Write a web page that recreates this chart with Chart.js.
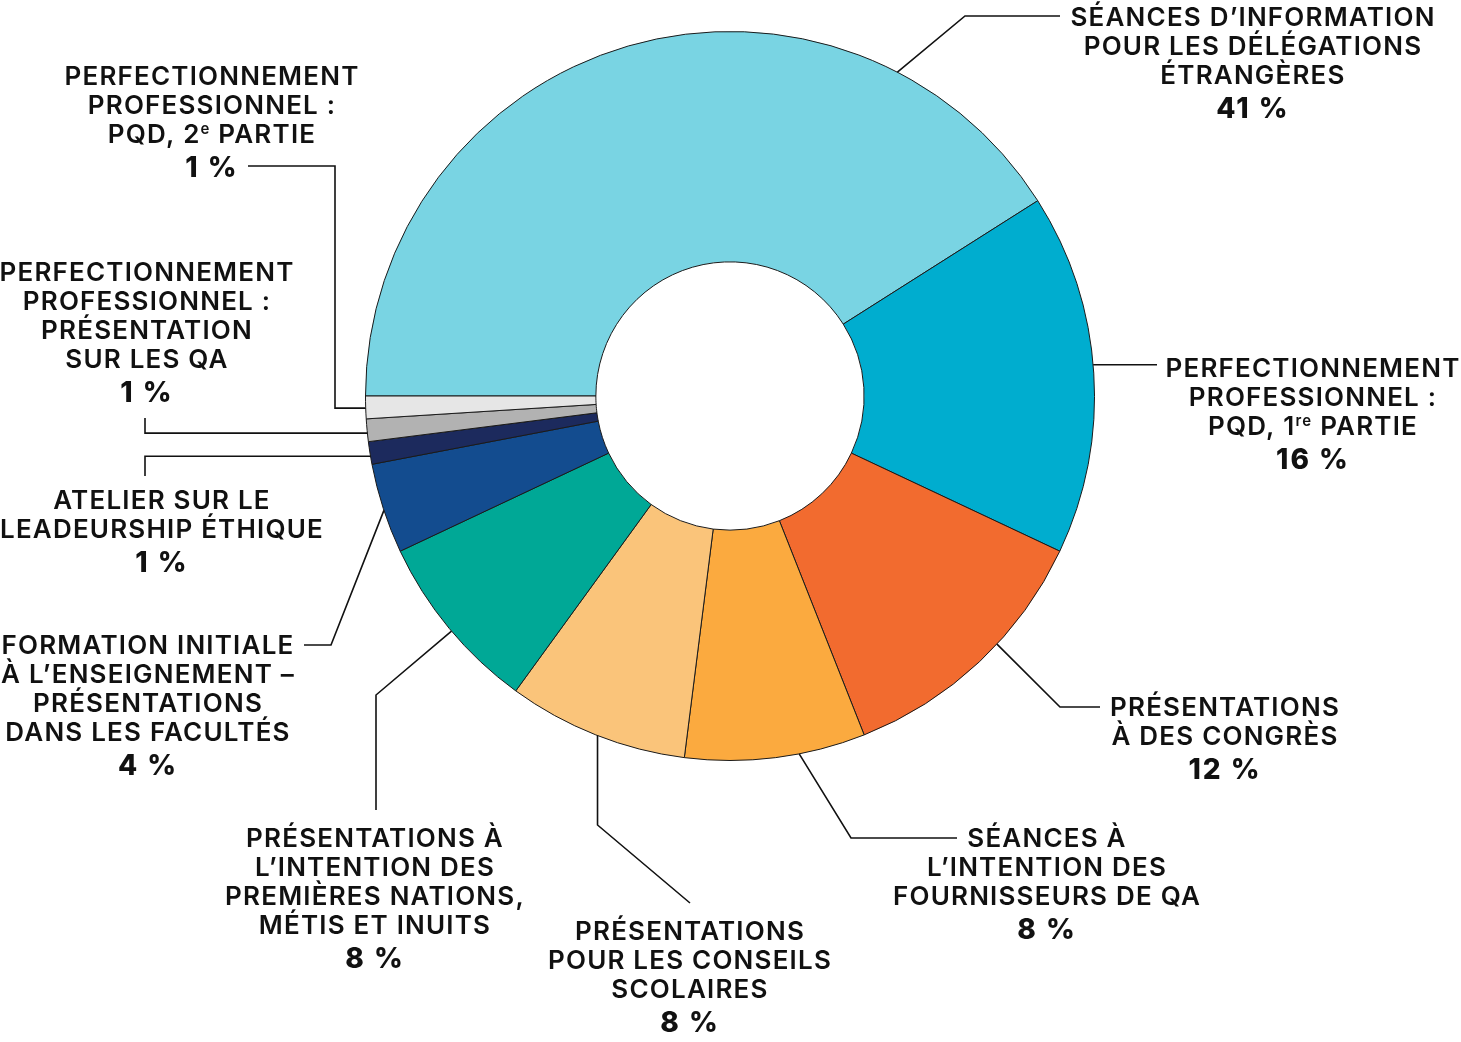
<!DOCTYPE html>
<html lang="fr">
<head>
<meta charset="utf-8">
<title>Répartition des séances</title>
<script src="https://cdn.jsdelivr.net/npm/chart.js@4.4.1/dist/chart.umd.min.js"></script>
<style>
    html, body { margin: 0; padding: 0; background: #fff; }
    #wrap { position: relative; width: 1461px; height: 1042px; }
</style>
</head>
<body>
<div id="wrap"><canvas id="chart"></canvas></div>
<script>
// Categories (each entry = the lines of its label, ^..^ marks superscript)
const categories = [
    ['SÉANCES D’INFORMATION', 'POUR LES DÉLÉGATIONS', 'ÉTRANGÈRES'],
    ['PERFECTIONNEMENT', 'PROFESSIONNEL :', 'PQD, 1^re^ PARTIE'],
    ['PRÉSENTATIONS', 'À DES CONGRÈS'],
    ['SÉANCES À', 'L’INTENTION DES', 'FOURNISSEURS DE QA'],
    ['PRÉSENTATIONS', 'POUR LES CONSEILS', 'SCOLAIRES'],
    ['PRÉSENTATIONS À', 'L’INTENTION DES', 'PREMIÈRES NATIONS,', 'MÉTIS ET INUITS'],
    ['FORMATION INITIALE', 'À L’ENSEIGNEMENT –', 'PRÉSENTATIONS', 'DANS LES FACULTÉS'],
    ['ATELIER SUR LE', 'LEADEURSHIP ÉTHIQUE'],
    ['PERFECTIONNEMENT', 'PROFESSIONNEL :', 'PRÉSENTATION', 'SUR LES QA'],
    ['PERFECTIONNEMENT', 'PROFESSIONNEL :', 'PQD, 2^e^ PARTIE']
];

// Share of sessions, percent
const shares = [41, 16, 12, 8, 8, 8, 4, 1, 1, 1];

const sliceColors = [
    '#79d4e3', '#00adcf', '#f26b2f', '#fbaa3f', '#fac47a',
    '#00a896', '#134c8f', '#1c2a5d', '#b2b2b2', '#e6e6e6'
];

// Label placement: where the leader leaves the slice (fraction of the arc),
// the bends of the leader (null = same as the anchor), and the text block centre.
const labelLayout = [
    { frac: 0.795, path: [[965, 16], [1060, 16]], x: 1253, y: 17 },
    { frac: 0.477, path: [[1157, null]], x: 1313, y: 368 },
    { frac: 0.41, path: [[1060, 707], [1100, 707]], x: 1225, y: 707 },
    { frac: 0.37, path: [[851, 838], [957, 838]], x: 1047, y: 838 },
    { frac: 0.49, path: [[null, 825], [690, 903]], x: 690, y: 931 },
    { frac: 0.48, path: [[376, 695], [376, 810]], x: 375, y: 838 },
    { frac: 0.48, path: [[331, 645], [304, 645]], x: 148, y: 645 },
    { frac: 0.36, path: [[145, null], [145, 476]], x: 162, y: 500 },
    { frac: 0.375, path: [[145, null], [145, 418]], x: 147, y: 272 },
    { frac: 0.47, path: [[335, null], [335, 166], [248, 166]], x: 212, y: 76 }
];

const FONT = 'Inter, "Open Sans", sans-serif';
const TEXT_SIZE = 26;
const LINE_GAP = 29;
const PCT_GAP = 34;
const TEXT_TRACKING = '1.2px';

/**
 * Draw one line of text centred on x, with ^..^ parts set as superscript
 */
function drawRichLine(ctx, text, cx, baseline) {
    const parts = text.split('^');
    const normal = `600 ${TEXT_SIZE}px ${FONT}`;
    const sup = `600 ${Math.round(TEXT_SIZE * 0.58)}px ${FONT}`;
    let total = 0;
    parts.forEach((p, i) => {
        ctx.font = i % 2 ? sup : normal;
        total += ctx.measureText(p).width;
    });
    let x = cx - total / 2;
    parts.forEach((p, i) => {
        ctx.font = i % 2 ? sup : normal;
        ctx.fillText(p, x, i % 2 ? baseline - TEXT_SIZE * 0.36 : baseline);
        x += ctx.measureText(p).width;
    });
}

// Plugin: leader lines and outside labels
const outsideLabels = {
    id: 'outsideLabels',
    afterDatasetsDraw(chart) {
        const ctx = chart.ctx;
        const arcs = chart.getDatasetMeta(0).data;
        const capHalf = TEXT_SIZE * 0.727 / 2;

        ctx.save();
        ctx.strokeStyle = '#111';
        ctx.lineWidth = 1.6;
        ctx.fillStyle = '#111';
        ctx.textAlign = 'left';
        ctx.textBaseline = 'alphabetic';

        arcs.forEach((arc, i) => {
            const lay = labelLayout[i];
            const p = arc.getProps(['x', 'y', 'startAngle', 'endAngle', 'outerRadius'], true);
            const a = p.startAngle + (p.endAngle - p.startAngle) * lay.frac;
            const ax = p.x + Math.cos(a) * p.outerRadius;
            const ay = p.y + Math.sin(a) * p.outerRadius;

            ctx.beginPath();
            ctx.moveTo(ax, ay);
            lay.path.forEach(([px, py]) => {
                ctx.lineTo(px === null ? ax : px, py === null ? ay : py);
            });
            ctx.stroke();

            ctx.letterSpacing = TEXT_TRACKING;
            const lines = categories[i];
            lines.forEach((line, k) => {
                drawRichLine(ctx, line, lay.x, lay.y + k * LINE_GAP + capHalf);
            });

            ctx.font = `800 28px ${FONT}`;
            ctx.letterSpacing = '2px';
            ctx.textAlign = 'center';
            const pctY = lay.y + (lines.length - 1) * LINE_GAP + PCT_GAP + capHalf;
            ctx.fillText(`${shares[i]} %`, lay.x, pctY);
            ctx.textAlign = 'left';
        });
        ctx.restore();
    }
};

new Chart(document.getElementById('chart'), {
    type: 'doughnut',
    data: {
        labels: categories.map(l => l.join(' ').replace(/\^/g, '')),
        datasets: [{
            data: shares,
            backgroundColor: sliceColors,
            borderColor: '#1a1a1a',
            borderWidth: 1
        }]
    },
    options: {
        responsive: true,
        maintainAspectRatio: false,
        animation: false,
        rotation: -90,
        cutout: '36.8%',
        layout: {
            padding: { left: 365, right: 366, top: 31, bottom: 281 }
        },
        plugins: {
            legend: { display: false },
            tooltip: { enabled: false }
        }
    },
    plugins: [outsideLabels]
});
</script>
</body>
</html>
